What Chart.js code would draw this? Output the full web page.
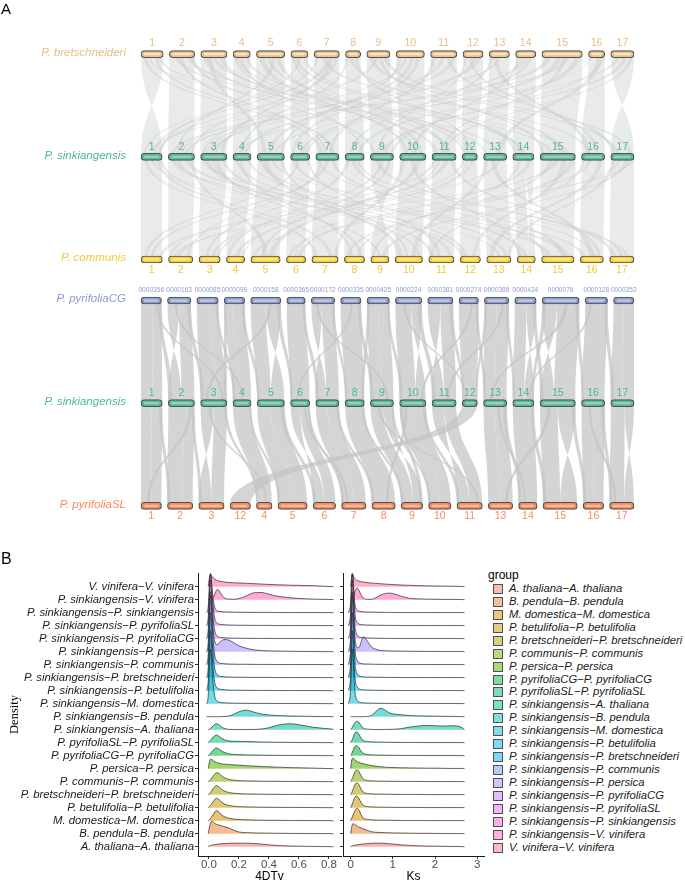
<!DOCTYPE html>
<html><head><meta charset="utf-8">
<script src="https://cdn.jsdelivr.net/npm/chart.js@4.4.0/dist/chart.umd.min.js"></script>
<style>
html,body{margin:0;padding:0;background:#fff;}
body{width:685px;height:883px;position:relative;overflow:hidden;font-family:"Liberation Sans",Arial,sans-serif;}
.abs{position:absolute;}
</style></head><body>
<div class="abs" id="wrapA" style="left:0;top:0;width:685px;height:560px;"><canvas id="cA"></canvas></div>
<div class="abs" id="wrapL" style="left:0;top:565px;width:345px;height:318px;"><canvas id="cL"></canvas></div>
<div class="abs" id="wrapR" style="left:335px;top:565px;width:150px;height:318px;"><canvas id="cR"></canvas></div>
<div class="abs" style="left:1px;top:1px;font-size:15px;line-height:15px;color:#000;">A</div>
<div class="abs" style="left:1px;top:551px;font-size:16px;line-height:16px;color:#000;">B</div>
<div id="legend"></div>
<script>
// ---------------- DATA ----------------
// Panel A: chromosome lengths (Mb) in drawing order for each genome track
const speciesNames = ["P. bretschneideri","P. sinkiangensis","P. communis","P. pyrifoliaCG","P. sinkiangensis","P. pyrifoliaSL"];
const bretLengths     = [22,25,26,17,28,17,25,15,23,28,26,20,20,20,40,16,23];
const sinkLengths     = [21,26,26,18,27,19,23,19,23,26,24,15,23,21,35,23,23];
const communisLengths = [21,24,21,18,29,19,26,20,18,27,25,20,24,18,32,23,24];
const pyrCGLengths    = [21,24,22,21,31,19,24,21,23,27,26,20,25,22,38,23,21];
const pyrSLLengths    = [21,26,26,21,16,30,23,25,24,22,23,26,25,19,35,21,25];
const chrLabels   = ["1","2","3","4","5","6","7","8","9","10","11","12","13","14","15","16","17"];
const pyrCGLabels = ["0000356","0000163","0000085","0000099","0000158","0000365","0000172","0000335","0000425","0000224","0000381","0000274","0000386","0000424","0000076","0000128","0000352"];
const pyrSLLabels = ["1","2","3","12","4","5","6","7","8","9","10","11","13","14","15","16","17"];

// synteny links: [upper slot, from, to, lower slot, from, to] (fractions of chromosome; reversed = inversion)
const linksBretSink = [
 [1,0,0.5,1,1,0.5],[1,0.5,1,1,0.5,0],
 [2,0,1,2,0,1],[3,0,1,3,0,1],[4,0,1,4,0,1],[5,0,1,5,0,1],[6,0,1,6,0,1],[7,0,1,7,0,1],[8,0,1,8,0,1],[9,0,1,9,0,1],
 [10,0,1,10,0,1],[11,0,1,11,0,1],[12,0,1,12,0,1],[13,0,1,13,0,1],[14,0,1,14,0,1],[15,0,1,15,0,1],[16,0,1,16,0,1],
 [17,0,0.5,17,1,0.5],[17,0.5,1,17,0.5,0],
 [1,0.1,0.25,7,0.2,0.35],[7,0.5,0.7,1,0.55,0.7],[1,0.6,0.75,7,0.7,0.85],[7,0.1,0.2,1,0.1,0.2],
 [2,0.2,0.35,15,0.3,0.4],[15,0.1,0.25,2,0.6,0.75],[2,0.7,0.85,15,0.75,0.85],[15,0.6,0.7,2,0.1,0.2],
 [3,0.1,0.3,11,0.15,0.3],[11,0.4,0.55,3,0.5,0.65],[3,0.7,0.9,11,0.7,0.85],[11,0.8,0.95,3,0.2,0.3],
 [4,0.2,0.4,12,0.1,0.3],[12,0.5,0.7,4,0.6,0.8],[4,0.7,0.9,12,0.7,0.9],
 [5,0.1,0.3,10,0.2,0.35],[10,0.5,0.65,5,0.4,0.55],[5,0.7,0.85,10,0.75,0.9],[10,0.1,0.2,5,0.85,0.95],
 [6,0.2,0.4,14,0.3,0.5],[14,0.6,0.8,6,0.5,0.7],[6,0.7,0.9,14,0.1,0.25],
 [8,0.2,0.45,15,0.55,0.7],[15,0.8,0.95,8,0.6,0.8],
 [9,0.1,0.3,17,0.2,0.4],[17,0.5,0.7,9,0.5,0.7],[9,0.7,0.9,17,0.8,0.95],
 [13,0.2,0.4,16,0.2,0.4],[16,0.5,0.8,13,0.6,0.8],
 [2,0.4,0.55,7,0.4,0.5],[7,0.8,0.95,2,0.85,0.95],
 [1,0.3,0.4,13,0.1,0.2],[10,0.3,0.4,3,0.05,0.15],[12,0.1,0.2,9,0.3,0.4],[14,0.3,0.4,4,0.05,0.15],[16,0.1,0.2,5,0.6,0.7],
 [1,0.75,0.9,13,0.6,0.75],[2,0.85,1,9,0.1,0.25],[3,0.3,0.45,5,0.2,0.35],[3,0.45,0.6,14,0.5,0.65],[4,0.05,0.2,10,0.6,0.7],
 [5,0.35,0.5,12,0.35,0.5],[5,0.55,0.7,2,0.3,0.4],[6,0.05,0.2,11,0.55,0.7],[7,0.3,0.45,16,0.3,0.45],[7,0.6,0.75,3,0.75,0.9],
 [8,0.05,0.2,4,0.4,0.55],[8,0.6,0.8,12,0.55,0.7],[9,0.35,0.5,1,0.75,0.9],[9,0.5,0.65,15,0.05,0.15],[10,0.7,0.85,6,0.05,0.2],
 [11,0.05,0.2,7,0.55,0.7],[11,0.6,0.75,17,0.05,0.2],[12,0.75,0.9,2,0.45,0.55],[13,0.05,0.2,8,0.25,0.4],[13,0.45,0.6,1,0.35,0.5],
 [14,0.05,0.2,10,0.45,0.6],[14,0.45,0.6,3,0.35,0.45],[15,0.35,0.5,6,0.75,0.9],[15,0.5,0.6,11,0.35,0.45],[16,0.85,1,9,0.85,1],
 [17,0.25,0.4,4,0.25,0.4],[17,0.8,0.95,11,0.45,0.55],[12,0.3,0.45,16,0.65,0.8],[6,0.45,0.6,1,0.85,0.95],[4,0.45,0.6,8,0.85,1]
];
const linksSinkCommunis = [
 [1,0,1,1,0,1],[2,0,1,2,0,1],[3,0,1,3,0,1],[4,0,1,4,0,1],[5,0,1,5,0,1],[6,0,1,6,0,1],[7,0,1,7,0,1],[8,0,1,8,0,1],
 [9,0,0.5,9,1,0.5],[9,0.5,1,9,0.5,0],
 [10,0,1,10,0,1],[11,0,1,11,0,1],[12,0,1,12,0,1],[13,0,1,13,0,1],
 [14,0,0.6,14,0,0.6],[14,0.6,1,14,1,0.6],
 [15,0,1,15,0,1],[16,0,1,16,0,1],[17,0,1,17,0,1],
 [1,0.15,0.3,7,0.1,0.25],[7,0.4,0.6,1,0.45,0.6],[1,0.7,0.85,7,0.65,0.8],
 [2,0.1,0.25,15,0.2,0.35],[15,0.4,0.55,2,0.35,0.5],[2,0.6,0.8,15,0.7,0.9],
 [3,0.2,0.35,11,0.1,0.25],[11,0.5,0.7,3,0.6,0.75],[3,0.8,0.95,11,0.8,0.95],
 [4,0.1,0.3,12,0.2,0.4],[12,0.6,0.8,4,0.5,0.7],
 [5,0.2,0.4,10,0.1,0.3],[10,0.6,0.8,5,0.6,0.8],[5,0.85,0.95,10,0.4,0.5],
 [6,0.1,0.3,14,0.2,0.35],[14,0.7,0.9,6,0.6,0.8],
 [8,0.3,0.5,15,0.6,0.75],[15,0.85,1,8,0.1,0.25],
 [9,0.2,0.4,17,0.1,0.3],[17,0.6,0.8,9,0.6,0.8],
 [13,0.3,0.5,16,0.4,0.6],[16,0.7,0.9,13,0.1,0.3],
 [7,0.2,0.3,2,0.75,0.85],[1,0.45,0.55,13,0.5,0.6],[3,0.4,0.5,10,0.85,0.95],[12,0.3,0.4,6,0.4,0.5],
 [17,0.35,0.45,5,0.05,0.15],[11,0.25,0.35,4,0.85,0.95],[15,0.25,0.35,8,0.6,0.7],
 [1,0.85,1,9,0.45,0.6],[2,0.3,0.45,12,0.05,0.2],[2,0.85,0.95,5,0.45,0.6],[3,0.05,0.2,16,0.1,0.25],[4,0.35,0.5,8,0.3,0.45],
 [4,0.8,0.95,14,0.45,0.6],[5,0.05,0.2,13,0.75,0.9],[6,0.35,0.5,1,0.15,0.3],[6,0.85,1,11,0.35,0.5],[7,0.65,0.8,15,0.05,0.15],
 [8,0.05,0.25,3,0.3,0.45],[8,0.55,0.7,17,0.45,0.6],[9,0.45,0.6,4,0.05,0.2],[10,0.05,0.2,7,0.85,1],[10,0.4,0.55,14,0.05,0.2],
 [11,0.05,0.2,2,0.05,0.15],[11,0.75,0.9,16,0.75,0.9],[12,0.05,0.2,3,0.85,0.95],[13,0.05,0.2,10,0.6,0.75],[13,0.6,0.75,1,0.85,1],
 [14,0.25,0.4,9,0.05,0.2],[15,0.6,0.75,12,0.6,0.75],[16,0.3,0.45,6,0.1,0.25],[16,0.05,0.15,11,0.05,0.15],[17,0.05,0.2,13,0.85,1],
 [17,0.85,1,2,0.2,0.3],[5,0.5,0.6,17,0.7,0.8],[9,0.75,0.9,5,0.35,0.45],[3,0.55,0.7,8,0.75,0.9],[7,0.05,0.15,16,0.55,0.7]
];
const linksCGSink = [
 [1,0,0.55,1,0,0.55],[1,0.55,1,1,0.55,1],
 [2,0,0.5,2,0.5,0],[2,0.5,1,2,0.5,1],
 [3,0,0.6,3,0,0.6],[3,0.6,1,3,0.6,1],
 [4,0,0.4,4,0,0.4],[4,0.4,1,4,0.4,1],
 [5,0,0.5,5,0,0.5],[5,0.5,1,5,1,0.5],
 [6,0,1,6,0,1],
 [7,0,0.45,7,0.45,0],[7,0.45,1,7,0.45,1],
 [8,0,1,8,0,1],
 [9,0,0.5,9,0,0.5],[9,0.5,1,9,0.5,1],
 [10,0,0.6,10,0,0.6],[10,0.6,1,10,1,0.6],
 [11,0,0.5,11,0.5,0],[11,0.5,1,11,0.5,1],
 [12,0,1,12,0,1],
 [13,0,0.5,13,0,0.5],[13,0.5,1,13,0.5,1],
 [14,0,0.55,14,0,0.55],[14,0.55,1,14,1,0.55],
 [15,0,0.4,15,0.4,0],[15,0.4,1,15,0.4,1],
 [16,0,1,16,0,1],
 [17,0,0.5,17,0,0.5],[17,0.5,1,17,0.5,1],
 [2,0.3,0.4,4,0.5,0.6],[5,0.6,0.7,3,0.2,0.3],[7,0.2,0.3,9,0.7,0.8],[10,0.3,0.4,12,0.2,0.3],[13,0.7,0.8,11,0.6,0.7],
 [15,0.6,0.7,13,0.3,0.4],[16,0.2,0.3,14,0.7,0.8],[8,0.5,0.6,6,0.3,0.4],[1,0.7,0.8,3,0.8,0.9],[12,0.6,0.7,10,0.8,0.9],
 [1,0.85,1,2,0,0.15],[3,0.88,1,4,0,0.15],[5,0.88,1,6,0,0.15],[6,0.85,1,7,0,0.15],[8,0.85,1,9,0,0.15],
 [10,0.85,1,11,0,0.15],[12,0.85,1,13,0,0.12],[14,0.85,1,15,0,0.1],[16,0.85,1,17,0,0.15],
 [4,0,0.12,3,0.88,1],[9,0,0.12,8,0.85,1],[13,0,0.12,12,0.88,1],[15,0,0.1,14,0.88,1],
 [2,0.85,1,3,0,0.12],[4,0.85,1,5,0,0.1],[7,0.88,1,8,0,0.12],[9,0.88,1,10,0,0.12],[11,0.85,1,12,0,0.15],[13,0.88,1,14,0,0.12],[15,0.9,1,16,0,0.1]
];
const linksSinkSL = [
 [1,0,0.5,1,0,0.5],[1,0.5,1,1,0.5,1],
 [2,0,0.6,2,0,0.6],[2,0.6,1,2,0.6,1],
 [3,0,0.5,3,0.5,0],[3,0.5,1,3,0.5,1],
 [4,0,1,5,0,1],
 [5,0,0.5,6,0,0.5],[5,0.5,1,6,0.5,1],
 [6,0,0.5,7,0.5,0],[6,0.5,1,7,0.5,1],
 [7,0,0.5,8,0,0.5],[7,0.5,1,8,0.5,1],
 [8,0,1,9,0,1],
 [9,0,0.55,10,0,0.55],[9,0.55,1,10,1,0.55],
 [10,0,0.5,11,0,0.5],[10,0.5,1,11,0.5,1],
 [11,0,0.5,12,0.5,0],[11,0.5,1,12,0.5,1],
 [12,0,0.5,4,0,0.5],[12,0.5,1,4,0.5,1],
 [13,0,0.5,13,0,0.5],[13,0.5,1,13,0.5,1],
 [14,0,1,14,0,1],
 [15,0,0.5,15,0,0.5],[15,0.5,1,15,1,0.5],
 [16,0,0.5,16,0,0.5],[16,0.5,1,16,0.5,1],
 [17,0,0.6,17,0,0.6],[17,0.6,1,17,1,0.6],
 [3,0.3,0.4,5,0.6,0.7],[6,0.7,0.8,8,0.2,0.3],[10,0.2,0.3,9,0.6,0.7],[13,0.6,0.7,14,0.3,0.4],
 [15,0.2,0.3,13,0.7,0.8],[2,0.8,0.9,1,0.3,0.4],[9,0.3,0.4,12,0.8,0.9],[16,0.3,0.4,17,0.2,0.3],
 [1,0.85,1,2,0,0.12],[2,0.88,1,3,0,0.12],[5,0.85,1,7,0,0.12],[7,0.88,1,9,0,0.12],[8,0.85,1,10,0,0.12],
 [13,0.85,1,14,0,0.15],[14,0.85,1,15,0,0.1],[15,0.9,1,16,0,0.15],[16,0.85,1,17,0,0.12],[10,0,0.12,10,0.85,1],
 [3,0.88,1,5,0,0.12],[4,0.88,1,6,0,0.1],[6,0.88,1,8,0,0.12],[9,0.9,1,11,0,0.1],[10,0.88,1,12,0,0.12]
];

// Panel B: groups (bottom to top) and density curves (height in ridge units)
const groups = ["A. thaliana\u2212A. thaliana","B. pendula\u2212B. pendula","M. domestica\u2212M. domestica","P. betulifolia\u2212P. betulifolia","P. bretschneideri\u2212P. bretschneideri","P. communis\u2212P. communis","P. persica\u2212P. persica","P. pyrifoliaCG\u2212P. pyrifoliaCG","P. pyrifoliaSL\u2212P. pyrifoliaSL","P. sinkiangensis\u2212A. thaliana","P. sinkiangensis\u2212B. pendula","P. sinkiangensis\u2212M. domestica","P. sinkiangensis\u2212P. betulifolia","P. sinkiangensis\u2212P. bretschneideri","P. sinkiangensis\u2212P. communis","P. sinkiangensis\u2212P. persica","P. sinkiangensis\u2212P. pyrifoliaCG","P. sinkiangensis\u2212P. pyrifoliaSL","P. sinkiangensis\u2212P. sinkiangensis","P. sinkiangensis\u2212V. vinifera","V. vinifera\u2212V. vinifera"];

const dtvGrid = [-0.015,-0.005,0,0.005,0.01,0.015,0.02,0.03,0.04,0.05,0.06,0.08,0.1,0.13,0.16,0.2,0.25,0.3,0.35,0.4,0.45,0.5,0.55,0.6,0.7,0.83];
const dtvDensity = [
 [null,0,0.04,0.07,0.09,0.11,0.13,0.15,0.17,0.19,0.2,0.22,0.24,0.26,0.27,0.27,0.27,0.25,0.2,0.14,0.1,0.07,0.05,0.04,0.02,0],
 [null,0,0.3,0.6,0.82,0.93,0.95,0.88,0.78,0.72,0.68,0.62,0.55,0.45,0.3,0.13,0.08,0.06,0.05,0.04,0.03,0.03,0.02,0.02,0.01,0],
 [null,0,0.05,0.1,0.17,0.25,0.33,0.5,0.68,0.77,0.72,0.5,0.32,0.2,0.13,0.09,0.07,0.05,0.04,0.03,0.03,0.02,0.02,0.02,0.01,0],
 [null,0,0.05,0.1,0.17,0.25,0.33,0.5,0.65,0.72,0.68,0.48,0.3,0.18,0.12,0.08,0.06,0.05,0.04,0.03,0.03,0.02,0.02,0.02,0.01,0],
 [null,0,0.05,0.1,0.17,0.25,0.33,0.5,0.64,0.7,0.66,0.46,0.3,0.18,0.12,0.08,0.06,0.05,0.04,0.03,0.03,0.02,0.02,0.02,0.01,0],
 [null,0,0.04,0.08,0.14,0.22,0.3,0.46,0.6,0.68,0.68,0.5,0.32,0.19,0.12,0.08,0.06,0.05,0.04,0.03,0.03,0.02,0.02,0.02,0.01,0],
 [null,0,0.35,0.6,0.74,0.75,0.7,0.6,0.52,0.48,0.44,0.38,0.35,0.32,0.3,0.27,0.23,0.2,0.17,0.14,0.12,0.1,0.08,0.07,0.04,0],
 [null,0,0.05,0.1,0.17,0.25,0.32,0.45,0.56,0.6,0.56,0.4,0.26,0.15,0.1,0.07,0.06,0.05,0.04,0.03,0.03,0.02,0.02,0.02,0.01,0],
 [null,0,0.05,0.1,0.17,0.25,0.32,0.45,0.56,0.6,0.55,0.38,0.23,0.14,0.11,0.1,0.09,0.07,0.05,0.04,0.03,0.03,0.02,0.02,0.01,0],
 [null,0,0.03,0.06,0.1,0.15,0.2,0.32,0.42,0.46,0.42,0.25,0.1,0.03,0.01,0.01,0.01,0.02,0.05,0.15,0.32,0.43,0.45,0.38,0.18,0.03],
 [0,0,0,0,0,0,0,0,0,0,0,0,0.01,0.05,0.15,0.38,0.5,0.35,0.2,0.13,0.09,0.07,0.05,0.04,0.02,0],
 [0,0.6,1.9,3.6,4.2,3.8,2.7,1.25,0.5,0.25,0.15,0.09,0.07,0.05,0.04,0.03,0.03,0.02,0.02,0.02,0.01,0.01,0.01,0.01,0.01,0],
 [0,0.7,2.1,3.9,4.6,4.1,3.0,1.4,0.55,0.28,0.16,0.1,0.07,0.05,0.04,0.03,0.03,0.02,0.02,0.02,0.01,0.01,0.01,0.01,0.01,0],
 [0,0.75,2.25,4.25,5.0,4.5,3.25,1.5,0.6,0.3,0.17,0.1,0.07,0.05,0.04,0.03,0.03,0.02,0.02,0.02,0.01,0.01,0.01,0.01,0.01,0],
 [0,0.8,2.4,4.5,5.3,4.8,3.45,1.6,0.64,0.32,0.18,0.1,0.07,0.05,0.04,0.03,0.03,0.02,0.02,0.02,0.01,0.01,0.01,0.01,0.01,0],
 [0,0.7,2.1,3.9,4.6,4.1,3.0,1.45,0.75,0.55,0.58,0.8,0.93,0.9,0.72,0.45,0.26,0.14,0.09,0.06,0.05,0.04,0.03,0.02,0.01,0],
 [0,0.68,2.0,3.8,4.5,4.05,2.9,1.35,0.54,0.27,0.15,0.09,0.07,0.05,0.04,0.03,0.03,0.02,0.02,0.02,0.01,0.01,0.01,0.01,0.01,0],
 [0,0.6,1.8,3.4,4.0,3.6,2.6,1.2,0.48,0.24,0.14,0.09,0.07,0.05,0.04,0.03,0.03,0.02,0.02,0.02,0.01,0.01,0.01,0.01,0.01,0],
 [0,0.45,1.35,2.55,3.0,2.7,1.95,0.9,0.36,0.18,0.11,0.08,0.06,0.05,0.04,0.03,0.03,0.02,0.02,0.02,0.01,0.01,0.01,0.01,0.01,0],
 [null,0,0.02,0.05,0.08,0.1,0.12,0.2,0.45,0.72,0.77,0.45,0.15,0.04,0.03,0.08,0.3,0.53,0.55,0.42,0.28,0.2,0.14,0.09,0.04,0.01],
 [null,0,0.45,0.78,0.9,0.88,0.8,0.65,0.55,0.5,0.45,0.4,0.36,0.32,0.3,0.28,0.26,0.23,0.2,0.17,0.15,0.13,0.11,0.1,0.07,0]
];
const ksGrid = [-0.05,0,0.02,0.04,0.06,0.08,0.1,0.13,0.16,0.2,0.25,0.3,0.4,0.5,0.6,0.7,0.8,0.9,1.0,1.2,1.4,1.6,1.8,2.0,2.2,2.4,2.6,2.7];
const ksDensity = [
 [null,0,0.03,0.06,0.08,0.1,0.11,0.13,0.15,0.17,0.19,0.21,0.24,0.26,0.27,0.27,0.26,0.23,0.2,0.14,0.1,0.07,0.05,0.04,0.03,0.02,0.01,0],
 [null,0,0.4,0.7,0.77,0.74,0.7,0.64,0.58,0.5,0.44,0.38,0.25,0.15,0.11,0.09,0.08,0.07,0.06,0.05,0.04,0.03,0.03,0.02,0.02,0.01,0.01,0],
 [null,0,0.12,0.3,0.45,0.62,0.78,0.92,0.95,0.8,0.45,0.2,0.1,0.07,0.05,0.04,0.04,0.03,0.03,0.02,0.02,0.02,0.01,0.01,0.01,0.01,0.01,0],
 [null,0,0.12,0.3,0.48,0.65,0.8,0.9,0.88,0.7,0.4,0.18,0.09,0.06,0.05,0.04,0.04,0.03,0.03,0.02,0.02,0.02,0.01,0.01,0.01,0.01,0.01,0],
 [null,0,0.1,0.26,0.42,0.6,0.76,0.88,0.9,0.75,0.42,0.2,0.09,0.06,0.05,0.04,0.04,0.03,0.03,0.02,0.02,0.02,0.01,0.01,0.01,0.01,0.01,0],
 [null,0,0.1,0.25,0.4,0.58,0.75,0.88,0.9,0.76,0.44,0.2,0.09,0.06,0.05,0.04,0.04,0.03,0.03,0.02,0.02,0.02,0.01,0.01,0.01,0.01,0.01,0],
 [null,0,0.5,0.78,0.82,0.75,0.68,0.6,0.54,0.48,0.42,0.38,0.3,0.24,0.19,0.15,0.12,0.1,0.09,0.07,0.06,0.05,0.04,0.04,0.03,0.02,0.02,0],
 [null,0,0.1,0.25,0.42,0.58,0.7,0.77,0.75,0.6,0.35,0.18,0.09,0.06,0.05,0.04,0.04,0.03,0.03,0.02,0.02,0.02,0.01,0.01,0.01,0.01,0.01,0],
 [null,0,0.1,0.25,0.42,0.6,0.74,0.82,0.8,0.62,0.35,0.17,0.09,0.06,0.05,0.04,0.04,0.03,0.03,0.02,0.02,0.02,0.01,0.01,0.01,0.01,0.01,0],
 [null,0,0.08,0.18,0.3,0.42,0.52,0.62,0.65,0.55,0.3,0.12,0.04,0.02,0.01,0.01,0.02,0.02,0.03,0.08,0.2,0.28,0.33,0.31,0.28,0.3,0.22,0],
 [null,0,0,0,0,0,0,0,0,0,0,0,0.02,0.1,0.4,0.64,0.55,0.32,0.22,0.14,0.09,0.06,0.05,0.04,0.03,0.02,0.01,0],
 [0,1.05,2.95,4.2,3.55,2.1,1.05,0.42,0.25,0.12,0.08,0.06,0.05,0.04,0.03,0.03,0.02,0.02,0.02,0.01,0.01,0.01,0.01,0.01,0.01,0.01,0.01,0],
 [0,1.15,3.2,4.6,3.9,2.3,1.15,0.46,0.28,0.13,0.09,0.06,0.05,0.04,0.03,0.03,0.02,0.02,0.02,0.01,0.01,0.01,0.01,0.01,0.01,0.01,0.01,0],
 [0,1.25,3.5,5.0,4.25,2.5,1.25,0.5,0.3,0.14,0.09,0.06,0.05,0.04,0.03,0.03,0.02,0.02,0.02,0.01,0.01,0.01,0.01,0.01,0.01,0.01,0.01,0],
 [0,1.3,3.7,5.3,4.5,2.65,1.3,0.53,0.32,0.14,0.09,0.06,0.05,0.04,0.03,0.03,0.02,0.02,0.02,0.01,0.01,0.01,0.01,0.01,0.01,0.01,0.01,0],
 [0,1.15,3.2,4.6,3.9,2.3,1.15,0.5,0.3,0.32,0.75,1.15,0.8,0.35,0.18,0.1,0.07,0.06,0.05,0.04,0.03,0.03,0.02,0.02,0.01,0.01,0.01,0],
 [0,1.1,3.15,4.5,3.8,2.25,1.1,0.45,0.27,0.13,0.09,0.06,0.05,0.04,0.03,0.03,0.02,0.02,0.02,0.01,0.01,0.01,0.01,0.01,0.01,0.01,0.01,0],
 [0,1.0,2.8,4.0,3.4,2.0,1.0,0.4,0.24,0.12,0.08,0.06,0.05,0.04,0.03,0.03,0.02,0.02,0.02,0.01,0.01,0.01,0.01,0.01,0.01,0.01,0.01,0],
 [0,0.75,2.1,3.0,2.55,1.5,0.75,0.3,0.18,0.11,0.08,0.06,0.05,0.04,0.03,0.03,0.02,0.02,0.02,0.01,0.01,0.01,0.01,0.01,0.01,0.01,0.01,0],
 [null,0,0.02,0.05,0.1,0.3,0.6,0.85,0.88,0.7,0.35,0.12,0.03,0.03,0.15,0.33,0.45,0.5,0.47,0.26,0.1,0.06,0.04,0.03,0.02,0.02,0.01,0],
 [null,0,0.6,0.97,0.9,0.72,0.6,0.5,0.46,0.42,0.38,0.35,0.31,0.27,0.25,0.23,0.2,0.18,0.16,0.12,0.1,0.08,0.06,0.05,0.04,0.03,0.02,0]
];
const dtvTicks = [0,0.2,0.4,0.6,0.8];
const ksTicks = [0,1,2,3];

// ---------------- STYLE / LAYOUT ----------------
const SANS = "'Liberation Sans', Arial, sans-serif";
const SERIF = "'Liberation Serif', 'Times New Roman', serif";
Chart.defaults.font.family = SANS;

function hclToRgb(h, c, l) {
  const hr = h * Math.PI / 180;
  const U = c * Math.cos(hr), V = c * Math.sin(hr);
  const Xn = 95.047, Yn = 100, Zn = 108.883;
  const un = 4*Xn/(Xn+15*Yn+3*Zn), vn = 9*Yn/(Xn+15*Yn+3*Zn);
  const Y = l > 8 ? Yn*Math.pow((l+16)/116,3) : Yn*l/903.3;
  const u = U/(13*l) + un, v = V/(13*l) + vn;
  const X = 9*Y*u/(4*v);
  const Z = Y*(12 - 3*u - 20*v)/(4*v);
  const x = X/100, y = Y/100, z = Z/100;
  const lin = [3.240479*x - 1.537150*y - 0.498535*z, -0.969256*x + 1.875992*y + 0.041556*z, 0.055648*x - 0.204043*y + 1.057311*z];
  return lin.map(t => { t = t <= 0.0031308 ? 12.92*t : 1.055*Math.pow(t, 1/2.4) - 0.055; return Math.round(255*Math.min(1, Math.max(0, t))); });
}
const groupRgb = groups.map((g, i) => hclToRgb(15 + 360*i/groups.length, 100, 65));
const rgba = (i, a) => `rgba(${groupRgb[i][0]},${groupRgb[i][1]},${groupRgb[i][2]},${a})`;

// ---------------- PANEL A ----------------
const chromGap = 6;
function layoutTrack(lengths) {
  const total = lengths.reduce((a, b) => a + b, 0) + chromGap*(lengths.length - 1);
  let cur = 0;
  return lengths.map(L => { const s = cur/total; cur += L; const e = cur/total; cur += chromGap; return [s, e]; });
}
const tracks = [
  {name: speciesNames[0], lengths: bretLengths, labels: chrLabels, y: 0, fill: '#EBC28C', shine: 'rgba(255,240,215,0.75)', text: '#E8BE88', lab: -11, size: 10.5},
  {name: speciesNames[1], lengths: sinkLengths, labels: chrLabels, y: 1, fill: '#5DB994', shine: 'rgba(190,235,215,0.55)', text: '#4FB88C', lab: -10, size: 10.5},
  {name: speciesNames[2], lengths: communisLengths, labels: chrLabels, y: 2, fill: '#F6D03C', shine: 'rgba(255,240,170,0.7)', text: '#F2CB34', lab: 10.5, size: 10.5},
  {name: speciesNames[3], lengths: pyrCGLengths, labels: pyrCGLabels, y: 2.4, fill: '#8E9CCA', shine: 'rgba(205,215,240,0.75)', text: '#8C9BD0', lab: -10, size: 6.6},
  {name: speciesNames[4], lengths: sinkLengths, labels: chrLabels, y: 3.4, fill: '#5DB994', shine: 'rgba(190,235,215,0.55)', text: '#4FB88C', lab: -10, size: 10.5},
  {name: speciesNames[5], lengths: pyrSLLengths, labels: pyrSLLabels, y: 4.4, fill: '#F38B5E', shine: 'rgba(255,205,180,0.7)', text: '#F38D62', lab: 10, size: 10.5}
];
tracks.forEach(t => { t.spans = layoutTrack(t.lengths); });
const ribbonSets = [
  {from: 0, to: 1, links: linksBretSink, color: 'rgba(200,203,203,0.4)'},
  {from: 1, to: 2, links: linksSinkCommunis, color: 'rgba(200,203,203,0.4)'},
  {from: 3, to: 4, links: linksCGSink, color: 'rgba(194,197,197,0.72)'},
  {from: 4, to: 5, links: linksSinkSL, color: 'rgba(194,197,197,0.72)'}
];

const ribbonPlugin = {
  id: 'ribbons',
  beforeDatasetsDraw(chart) {
    const {ctx} = chart; const xs = chart.scales.x, ys = chart.scales.y;
    ctx.save();
    ribbonSets.forEach(set => {
      const top = tracks[set.from], bot = tracks[set.to];
      const yT = ys.getPixelForValue(top.y), yB = ys.getPixelForValue(bot.y);
      const ym = (yT + yB)/2;
      ctx.fillStyle = set.color;
      set.links.forEach(([a, a0, a1, b, b0, b1]) => {
        const sa = top.spans[a-1], sb = bot.spans[b-1];
        const xa0 = xs.getPixelForValue(sa[0] + (sa[1]-sa[0])*a0), xa1 = xs.getPixelForValue(sa[0] + (sa[1]-sa[0])*a1);
        const xb0 = xs.getPixelForValue(sb[0] + (sb[1]-sb[0])*b0), xb1 = xs.getPixelForValue(sb[0] + (sb[1]-sb[0])*b1);
        ctx.beginPath();
        ctx.moveTo(xa0, yT);
        ctx.bezierCurveTo(xa0, ym, xb0, ym, xb0, yB);
        ctx.lineTo(xb1, yB);
        ctx.bezierCurveTo(xb1, ym, xa1, ym, xa1, yT);
        ctx.closePath();
        ctx.fill();
      });
    });
    ctx.restore();
  }
};
const trackTextPlugin = {
  id: 'trackText',
  afterDatasetsDraw(chart) {
    const {ctx} = chart; const xs = chart.scales.x, ys = chart.scales.y;
    ctx.save();
    tracks.forEach(t => {
      const py = ys.getPixelForValue(t.y);
      ctx.fillStyle = t.text;
      ctx.font = `italic 11.5px ${SANS}`;
      ctx.textAlign = 'right'; ctx.textBaseline = 'middle';
      ctx.fillText(t.name, xs.getPixelForValue(0) - 15, py - 1.5);
      ctx.font = `${t.size}px ${SANS}`;
      ctx.textAlign = 'center';
      t.spans.forEach((sp, k) => {
        ctx.fillText(t.labels[k], xs.getPixelForValue((sp[0] + sp[1])/2), py + t.lab);
      });
    });
    ctx.restore();
  }
};
const barDatasets = [];
tracks.forEach(t => {
  barDatasets.push({
    data: t.spans.map(sp => ({x: [sp[0], sp[1]], y: t.y})),
    backgroundColor: t.fill, borderColor: '#505050', borderWidth: 1.1, borderRadius: 4,
    borderSkipped: false, barThickness: 7, grouped: false, order: 1
  });
  barDatasets.push({
    data: t.spans.map(sp => ({x: [sp[0] + 0.007, sp[1] - 0.007], y: t.y})),
    backgroundColor: t.shine, borderWidth: 0, borderRadius: 1,
    borderSkipped: false, barThickness: 1.6, grouped: false, order: 0
  });
});
new Chart(document.getElementById('cA'), {
  type: 'bar',
  data: {datasets: barDatasets},
  options: {
    indexAxis: 'y', animation: false, responsive: true, maintainAspectRatio: false,
    layout: {padding: 0},
    plugins: {legend: {display: false}, tooltip: {enabled: false}},
    scales: {
      x: {type: 'linear', min: -0.286, max: 1.1034, display: false},
      y: {type: 'linear', min: -0.1378, max: 4.538, reverse: true, display: false}
    }
  },
  plugins: [ribbonPlugin, trackTextPlugin]
});

// ---------------- PANEL B ----------------
function ridgeDatasets(grid, dens) {
  return groups.map((g, i) => ({
    label: g,
    data: grid.map((x, j) => ({x, y: (dens[i][j] == null) ? null : i + 1 + dens[i][j]})),
    borderColor: '#2a2a2a', borderWidth: 0.7,
    backgroundColor: rgba(i, 0.55),
    fill: {value: i + 1},
    pointRadius: 0, cubicInterpolationMode: 'monotone', spanGaps: false
  }));
}
const axisCommon = {
  grid: {display: true, drawOnChartArea: false, drawTicks: true, tickLength: 3, color: '#333', lineWidth: 1},
  border: {display: true, color: '#1a1a1a', width: 1}
};
function yAxis(width, withLabels) {
  return Object.assign({}, axisCommon, {
    type: 'linear', min: 0.285, max: 22.05,
    afterBuildTicks: s => { s.ticks = groups.map((g, i) => ({value: i + 1})); },
    ticks: {autoSkip: false, padding: 1, color: '#1a1a1a',
      font: {family: SANS, size: 11.3, style: 'italic'},
      callback: v => withLabels ? groups[Math.round(v) - 1] : ''},
    title: withLabels ? {display: true, text: 'Density', color: '#000', font: {family: SERIF, size: 12.5}, padding: {top: 7, bottom: 0}} : {display: false},
    afterFit: s => { s.width = width; }
  });
}
function xAxis(min, max, ticks, fmt, title) {
  return Object.assign({}, axisCommon, {
    type: 'linear', min, max,
    afterBuildTicks: s => { s.ticks = ticks.map(v => ({value: v})); },
    ticks: {autoSkip: false, maxRotation: 0, padding: -1, color: '#4d4d4d', font: {family: SANS, size: 11.5}, callback: fmt},
    title: {display: true, text: title, color: '#000', font: {family: SANS, size: 12, lineHeight: 1}, padding: {top: 0, bottom: 0}},
    afterFit: s => { s.height = 27; }
  });
}
const commonOpts = {animation: false, responsive: true, maintainAspectRatio: false,
  plugins: {legend: {display: false}, tooltip: {enabled: false}}};

new Chart(document.getElementById('cL'), {
  type: 'line',
  data: {datasets: ridgeDatasets(dtvGrid, dtvDensity)},
  options: Object.assign({}, commonOpts, {
    layout: {padding: {top: 8, right: 4, left: 0, bottom: 0}},
    scales: {x: xAxis(-0.073, 0.88, dtvTicks, v => v.toFixed(1), '4DTv'), y: yAxis(198, true)}
  })
});
new Chart(document.getElementById('cR'), {
  type: 'line',
  data: {datasets: ridgeDatasets(ksGrid, ksDensity)},
  options: Object.assign({}, commonOpts, {
    layout: {padding: {top: 8, right: 1, left: 0, bottom: 0}},
    scales: {x: xAxis(-0.18, 3.16, ksTicks, v => String(v), 'Ks'), y: yAxis(8, false)}
  })
});

// legend
(function () {
  let html = '<div class="abs" style="left:488px;top:567.5px;font-size:12px;line-height:14px;color:#000;">group</div>';
  groups.forEach((g, i) => {
    const cy = 588.8 + 12.96*i;
    html += `<div class="abs" style="left:493px;top:${cy - 5}px;width:10px;height:10px;box-sizing:border-box;border:1px solid #505050;background:${rgba(i, 0.5)};"></div>`;
    html += `<div class="abs" style="left:509px;top:${cy - 8}px;height:14px;line-height:14px;font-size:11.3px;font-style:italic;white-space:nowrap;color:#1a1a1a;">${g}</div>`;
  });
  document.getElementById('legend').innerHTML = html;
})();
</script>
</body></html>
